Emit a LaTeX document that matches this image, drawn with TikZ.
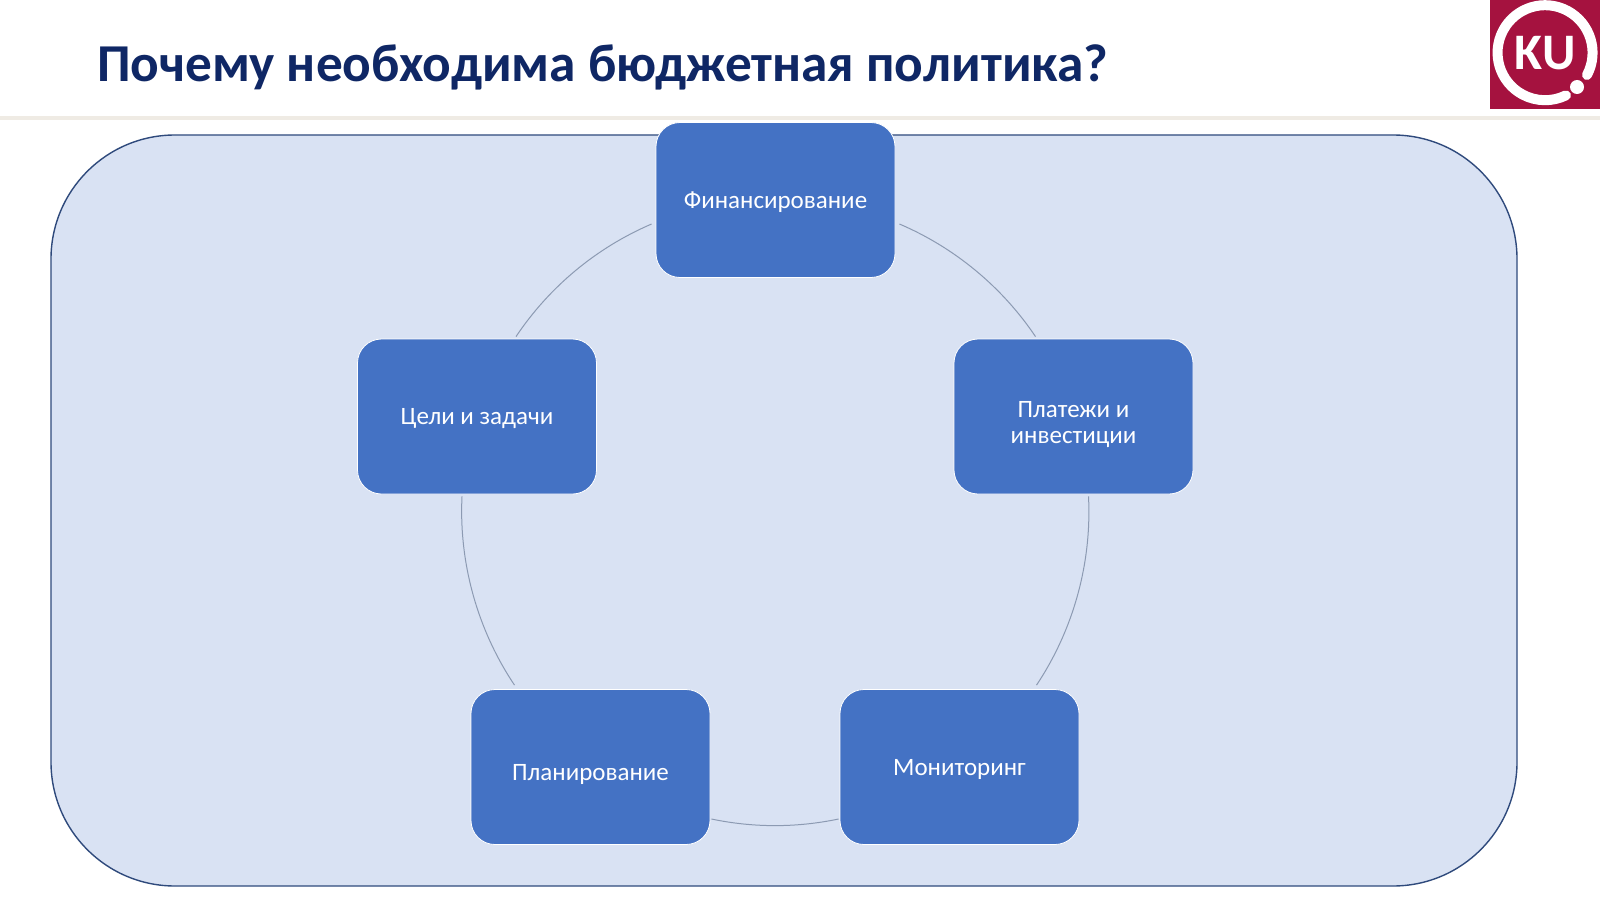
\documentclass[tikz,border=0pt]{standalone}
\usepackage{fontspec}
\setmainfont{Carlito}
\usetikzlibrary{calc}
\definecolor{panelfill}{HTML}{D9E2F3}
\definecolor{panelline}{HTML}{2F4A7C}
\definecolor{boxfill}{HTML}{4472C4}
\definecolor{titleblue}{HTML}{0F2765}
\definecolor{logored}{HTML}{A5123F}
\definecolor{ruleline}{HTML}{EFEBE4}
\definecolor{linkline}{HTML}{8C9AB2}
\tikzset{
  stagebox/.style={rectangle,rounded corners=12pt,draw=white,line width=0.4pt,fill=boxfill,
    text=white,minimum width=119.5pt,minimum height=77.5pt,align=center,
    font=\fontsize{12.5}{13.4}\selectfont},
  drop/.style={text depth=0pt,text height=#1},
  link/.style={draw=linkline,line width=0.5pt,looseness=0.87},
}
\begin{document}
\begin{tikzpicture}[x=0.5pt,y=-0.5pt]
\useasboundingbox (0,0) rectangle (1600,899);
% header
\fill[white] (0,0) rectangle (1600,899);
\draw[ruleline,line width=2.2pt] (0,118) -- (1600,118);
\node[anchor=west,inner sep=0pt,text=titleblue,font=\fontsize{26.65}{30}\bfseries\selectfont] (title) at (97,67) {Почему необходима бюджетная политика?};
% logo
\fill[logored] (1490,0) rectangle (1600,109);
\draw[white,line width=5pt,line cap=round] (1587,75) arc (28:-296:47.5);
\fill[white] (1577,87) circle (3.5pt);
\node[text=white,inner sep=0pt,font=\fontsize{25.6}{26}\bfseries\selectfont] (logo) at (1545,53) {KU};
% panel
\draw[fill=panelfill,draw=panelline,line width=0.7pt,rounded corners=62pt] (51,135) rectangle (1517,886);
% stages
\node[stagebox,drop=8pt] (fin) at (775.5,200) {Финансирование};
\node[stagebox] (plat) at (1073.5,416.5) {\rule{0pt}{16pt}Платежи и\\инвестиции};
\node[stagebox,drop=8pt] (mon) at (959.5,767) {Мониторинг};
\node[stagebox,drop=13pt] (plan) at (590.5,767) {Планирование};
\node[stagebox,drop=8pt] (goal) at (477,416.5) {Цели и задачи};
% links
\draw[link] ([shift={(4,24)}]fin.east) to[bend left=16.5] ([shift={(-38,-2)}]plat.north);
\draw[link] ([shift={(15,2)}]plat.south) to[bend left=18.3] ([shift={(77,-4)}]mon.north);
\draw[link] ([shift={(-1,52)}]mon.west) to[bend left=11.8] ([shift={(1,52)}]plan.east);
\draw[link] ([shift={(-76,-4)}]plan.north) to[bend left=18.3] ([shift={(-15,2)}]goal.south);
\draw[link] ([shift={(39,-2)}]goal.north) to[bend left=16.5] ([shift={(-4,24)}]fin.west);
\end{tikzpicture}
\end{document}
